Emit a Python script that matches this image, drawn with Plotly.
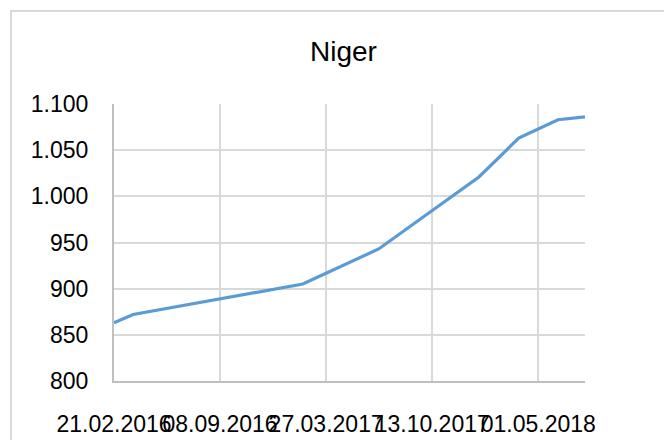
import plotly.graph_objects as go

# Data
dates = ["2016-02-21", "2016-03-28", "2017-02-11", "2017-07-04",
         "2018-01-09", "2018-03-25", "2018-06-07", "2018-07-28"]
values = [863, 872, 905, 943, 1021, 1063, 1083, 1086]

x_tick_dates = ["2016-02-21", "2016-09-08", "2017-03-27", "2017-10-13", "2018-05-01"]
x_tick_labels = ["21.02.2016", "08.09.2016", "27.03.2017", "13.10.2017", "01.05.2018"]
y_tick_vals = [800, 850, 900, 950, 1000, 1050, 1100]
y_tick_labels = ["800", "850", "900", "950", "1.000", "1.050", "1.100"]

FONT = "Liberation Sans"
OFF = 8  # browser default body margin

fig = go.Figure()
fig.add_trace(go.Scatter(
    x=dates, y=values, mode="lines",
    line=dict(color="#5b9bd5", width=3.2),
    hoverinfo="x+y",
))

fig.update_layout(
    width=672, height=440,
    margin=dict(l=114 - OFF, r=87 + OFF, t=104 - OFF, b=59 + OFF),
    paper_bgcolor="white", plot_bgcolor="white",
    showlegend=False,
    title=dict(text="Niger", x=(343.5 - OFF) / 672, xref="container", xanchor="center",
               y=1 - (51 - OFF) / 440, yref="container", yanchor="middle",
               font=dict(family=FONT, size=28, color="#000000")),
    font=dict(family=FONT, size=23, color="#000000"),
)

fig.update_xaxes(
    type="date",
    range=[dates[0], dates[-1]],
    tickvals=x_tick_dates, ticktext=x_tick_labels,
    tickangle=0, automargin=False,
    showgrid=True, gridcolor="#d9d9d9", gridwidth=2,
    showline=True, linecolor="#bfbfbf", linewidth=2,
    ticks="", ticklabelstandoff=21,
    tickfont=dict(family=FONT, size=23, color="#000000"),
    zeroline=False,
)
fig.update_yaxes(
    range=[800, 1100],
    tickvals=y_tick_vals, ticktext=y_tick_labels,
    automargin=False,
    showgrid=True, gridcolor="#d9d9d9", gridwidth=2,
    showline=True, linecolor="#bfbfbf", linewidth=2,
    ticks="", ticklabelstandoff=19,
    tickfont=dict(family=FONT, size=23, color="#000000"),
    zeroline=False,
)

# Outer chart-area border (extends past the right/bottom image edges)
fig.add_shape(type="rect", xref="paper", yref="paper",
              x0=(11 - 114) / 471, x1=1.4, y0=-0.4, y1=(381 - 11) / 277,
              line=dict(color="#d9d9d9", width=2), fillcolor="rgba(0,0,0,0)",
              layer="below")

fig.write_html("out.html")
